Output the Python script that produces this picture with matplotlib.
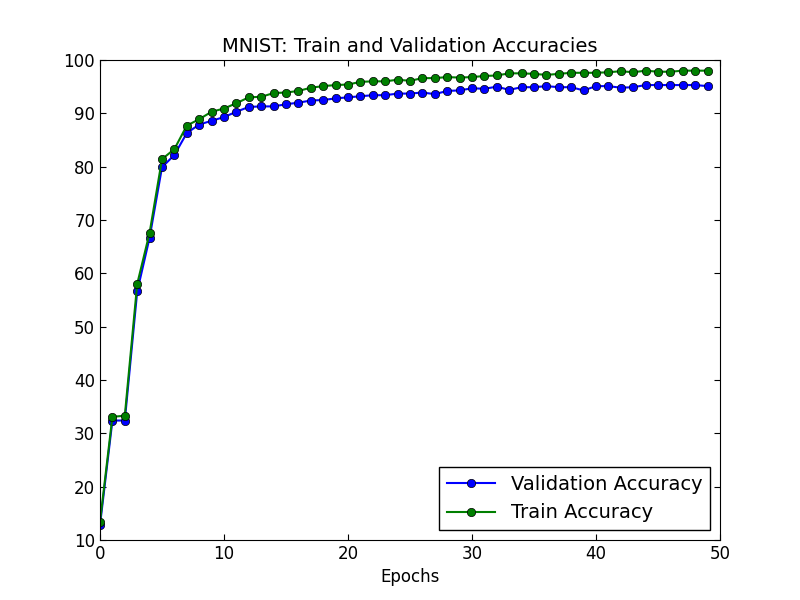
import matplotlib
matplotlib.use("Agg")
import matplotlib.pyplot as plt
import numpy as np

epochs = np.arange(50)
val_acc = [12.8, 32.4, 32.4, 56.6, 66.7, 79.9, 82.2, 86.3, 87.9, 88.6,
           89.3, 90.3, 91.2, 91.3, 91.3, 91.7, 92.0, 92.4, 92.5, 92.8,
           93.0, 93.2, 93.4, 93.4, 93.7, 93.7, 93.9, 93.6, 94.2, 94.3,
           94.7, 94.6, 95.0, 94.4, 94.9, 94.9, 95.1, 94.9, 94.9, 94.3,
           95.1, 95.1, 94.8, 94.9, 95.3, 95.3, 95.3, 95.3, 95.3, 95.1]
train_acc = [13.4, 33.1, 33.3, 58.0, 67.6, 81.4, 83.3, 87.7, 88.9, 90.3,
             90.9, 91.9, 93.0, 93.1, 93.8, 93.9, 94.2, 94.8, 95.1, 95.3,
             95.4, 95.9, 96.0, 96.0, 96.3, 96.1, 96.6, 96.6, 96.8, 96.7,
             96.8, 97.0, 97.1, 97.5, 97.5, 97.4, 97.2, 97.4, 97.6, 97.6,
             97.6, 97.7, 97.9, 97.7, 98.0, 97.8, 97.8, 98.0, 98.0, 98.0]

fig = plt.figure(figsize=(8, 6), dpi=100)
ax = fig.add_axes([0.125, 0.1, 0.775, 0.8])
ax.plot(epochs, val_acc, "-o", color="#0000ff", markersize=6, markeredgecolor="black",
        markeredgewidth=0.5, label="Validation Accuracy")
ax.plot(epochs, train_acc, "-o", color="#007f00", markersize=6, markeredgecolor="black",
        markeredgewidth=0.5, label="Train Accuracy")
ax.set_xlim(0, 50)
ax.set_ylim(10, 100)
ax.set_xticks(range(0, 51, 10))
ax.set_yticks(range(10, 101, 10))
ax.tick_params(direction="in", top=True, right=True, labelsize=12, length=4)
ax.set_xlabel("Epochs", fontsize=12)
ax.set_title("MNIST: Train and Validation Accuracies", fontsize=14)
leg = ax.legend(loc="lower right", fontsize=14, fancybox=False, framealpha=1,
                edgecolor="black", handlelength=2.5)
fig.savefig("out.png")
